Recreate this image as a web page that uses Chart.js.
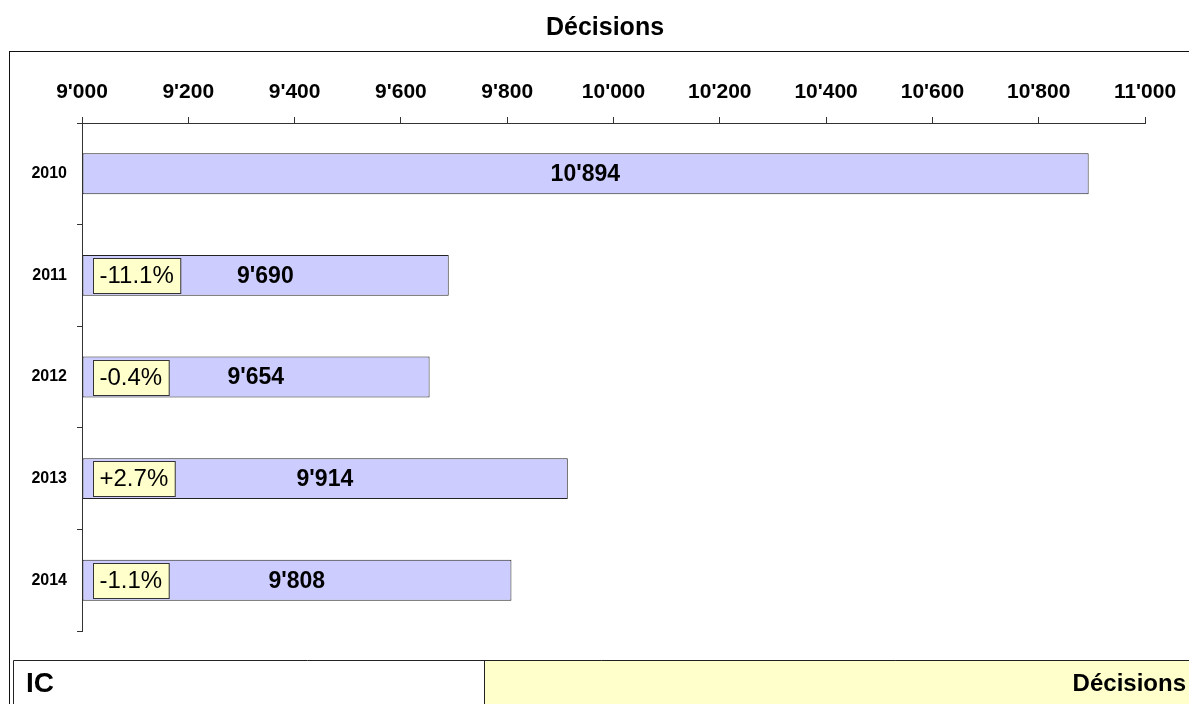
<!DOCTYPE html>
<html><head><meta charset="utf-8">
<script src="https://cdn.jsdelivr.net/npm/chart.js@4/dist/chart.umd.min.js"></script>
<style>html,body{margin:0;padding:0;background:#fff;overflow:hidden}</style>
</head><body>
<canvas id="c" width="1189" height="704" style="display:block;width:1189px;height:704px"></canvas>
<script>
const categories = ['2010', '2011', '2012', '2013', '2014'];
const decisions = [10894, 9690, 9654, 9914, 9808];
const changeLabels = ['', '-11.1%', '-0.4%', '+2.7%', '-1.1%'];
const axisMin = 9000;
const axisMax = 11000;
const axisStep = 200;
const chartTitle = 'Décisions';
const footerLeft = 'IC';
const footerRight = 'Décisions';

const FONT = '"Liberation Sans", Arial, Helvetica, sans-serif';
const fmt = n => String(n).replace(/\B(?=(\d{3})+(?!\d))/g, "'");

const bgPlugin = {
  id: 'bg',
  beforeDraw(chart) {
    const ctx = chart.ctx;
    ctx.save();
    ctx.fillStyle = '#ffffff';
    ctx.fillRect(0, 0, chart.width, chart.height);
    ctx.restore();
  }
};

function drawBarLabels(chart) {
  const ctx = chart.ctx;
  const xs = chart.scales.x, ys = chart.scales.y;
  ctx.save();
  for (let i = 0; i < decisions.length; i++) {
    const x = xs.getPixelForValue(decisions[i]);
    const base = xs.getPixelForValue(axisMin);
    const y = ys.getPixelForValue(i);
    ctx.fillStyle = '#000';
    ctx.font = 'bold 23px ' + FONT;
    ctx.textAlign = 'center';
    ctx.textBaseline = 'middle';
    ctx.fillText(fmt(decisions[i]), (x + base) / 2, y + 1);
    const lab = changeLabels[i];
    if (lab) {
      ctx.font = '24px ' + FONT;
      const w = ctx.measureText(lab).width + 13;
      const h = 35;
      const bx = Math.round(base + 11) + 0.5;
      const by = Math.round(y - h / 2) + 0.5;
      ctx.fillStyle = '#ffffcc';
      ctx.fillRect(bx, by, w, h);
      ctx.strokeStyle = '#333';
      ctx.lineWidth = 1;
      ctx.strokeRect(bx, by, w, h);
      ctx.fillStyle = '#000';
      ctx.textAlign = 'left';
      ctx.fillText(lab, bx + 6, y + 1);
    }
  }
  ctx.restore();
}

const framePlugin = {
  id: 'frame',
  afterDraw(chart) {
    const ctx = chart.ctx;
    drawBarLabels(chart);
    ctx.save();
    ctx.fillStyle = '#000';
    ctx.font = 'bold 25px ' + FONT;
    ctx.textAlign = 'center';
    ctx.textBaseline = 'middle';
    ctx.fillText(chartTitle, 605, 28);
    ctx.strokeStyle = '#111';
    ctx.lineWidth = 1;
    ctx.strokeRect(9.5, 51.5, chart.width + 10, chart.height + 10);
    ctx.fillStyle = '#ffffff';
    ctx.fillRect(13.5, 660.5, 471, 60);
    ctx.fillStyle = '#ffffcc';
    ctx.fillRect(484.5, 660.5, chart.width, 60);
    ctx.strokeStyle = '#222';
    ctx.beginPath();
    ctx.moveTo(13.5, 720); ctx.lineTo(13.5, 660.5); ctx.lineTo(chart.width + 2, 660.5);
    ctx.moveTo(484.5, 660.5); ctx.lineTo(484.5, 720);
    ctx.stroke();
    ctx.fillStyle = '#000';
    ctx.font = 'bold 28px ' + FONT;
    ctx.textAlign = 'left';
    ctx.textBaseline = 'middle';
    ctx.fillText(footerLeft, 26, 684);
    ctx.font = 'bold 24px ' + FONT;
    ctx.textAlign = 'right';
    ctx.fillText(footerRight, 1186, 684);
    ctx.restore();
  }
};

new Chart(document.getElementById('c'), {
  type: 'bar',
  data: {
    labels: categories,
    datasets: [{
      data: decisions,
      base: axisMin,
      backgroundColor: '#ccccff',
      borderColor: '#222222',
      borderWidth: 1,
      borderSkipped: false,
      categoryPercentage: 1,
      barPercentage: 0.403
    }]
  },
  options: {
    indexAxis: 'y',
    responsive: false,
    animation: false,
    devicePixelRatio: 1,
    layout: { padding: { top: 51, left: 0, right: 44, bottom: 73 } },
    plugins: { legend: { display: false }, title: { display: false }, tooltip: { enabled: false } },
    scales: {
      x: {
        position: 'top',
        min: axisMin,
        max: axisMax,
        afterFit(s) { s.height = 72; },
        ticks: {
          stepSize: axisStep,
          callback: v => fmt(v),
          font: { family: FONT, size: 21, weight: 'bold' },
          color: '#000',
          padding: 12,
          maxRotation: 0,
          autoSkip: false
        },
        grid: { drawOnChartArea: false, drawTicks: true, tickLength: 6, color: '#333' },
        border: { display: true, color: '#333', width: 1 }
      },
      y: {
        afterFit(s) { s.width = 82; },
        ticks: {
          font: { family: FONT, size: 16, weight: 'bold' },
          color: '#000',
          padding: 10
        },
        grid: { offset: true, drawOnChartArea: false, drawTicks: true, tickLength: 5, color: '#333' },
        border: { display: true, color: '#333', width: 1 }
      }
    }
  },
  plugins: [bgPlugin, framePlugin]
});
</script>
</body></html>
